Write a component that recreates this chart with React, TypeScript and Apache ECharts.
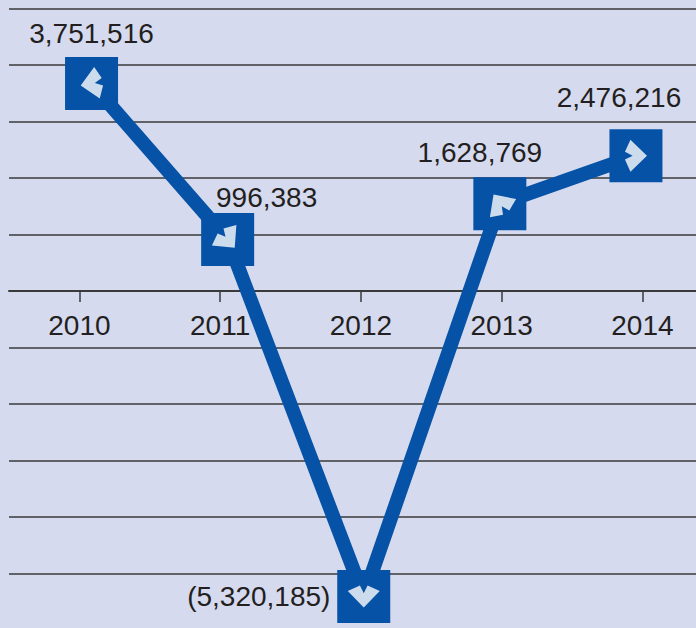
import React, { useEffect, useRef } from "react";
import * as echarts from "echarts";

const categories = ["2010", "2011", "2012", "2013", "2014"];
const values = [3751516, 996383, -5320185, 1628769, 2476216];
const yMin = -6000000;
const yMax = 5000000;
const yInterval = 1000000;

// label placement around each marker (px offsets from marker centre)
const labelOffsets: [number, number][] = [
  [0, -50],
  [39, -42],
  [-105, 0],
  [-20, -51],
  [-17, -58],
];
// direction of the white glyph inside each marker (degrees, CCW)
const glyphRotations = [-80, 40, 0, 215, 90];

const BLUE = "#0552a6";
const TEXT = "#231f20";
const FONT = "'Liberation Sans', Arial, Helvetica, sans-serif";

function fmt(v: number): string {
  const s = Math.abs(v).toLocaleString("en-US");
  return v < 0 ? `(${s})` : s;
}

const chevron = "path://M0,25 L38,0 L50,35 L62,0 L100,25 L50,100 Z";

export default function App() {
  const ref = useRef<HTMLDivElement>(null);
  useEffect(() => {
    document.body.style.margin = "0";
    if (!ref.current) return;
    const chart = echarts.init(ref.current, undefined, { renderer: "svg" });
    chart.setOption({
      animation: false,
      backgroundColor: "#d6daef",
      grid: [
        { left: 9, right: -16.75, top: 8.3, bottom: -1.8, outerBoundsMode: "none", containLabel: false },
        { left: 23.5, right: -8, top: 13, bottom: -7, outerBoundsMode: "none", containLabel: false },
      ],
      xAxis: [
        {
          type: "category",
          gridIndex: 0,
          data: categories,
          boundaryGap: true,
          position: "bottom",
          offset: -338.8,
          axisLine: { onZero: false, lineStyle: { color: "#3a3a3a", width: 2 } },
          axisTick: { show: true, alignWithLabel: true, length: 11, lineStyle: { color: "#3a3a3a", width: 1.5 } },
          axisLabel: { fontSize: 28, color: TEXT, fontFamily: FONT, margin: 20 },
          splitLine: { show: false },
        },
        {
          type: "category",
          gridIndex: 1,
          data: categories,
          boundaryGap: true,
          show: false,
        },
      ],
      yAxis: [
        {
          type: "value",
          gridIndex: 0,
          min: yMin,
          max: yMax,
          interval: yInterval,
          axisLine: { show: false },
          axisTick: { show: false },
          axisLabel: { show: false },
          splitLine: { show: true, lineStyle: { color: "#3a3a3a", width: 1.5 } },
        },
        {
          type: "value",
          gridIndex: 1,
          min: yMin,
          max: yMax,
          interval: yInterval,
          show: false,
          splitLine: { show: false },
        },
      ],
      series: [
        {
          type: "line",
          xAxisIndex: 1,
          yAxisIndex: 1,
          data: values.map((v, i) => ({
            value: v,
            label: { offset: labelOffsets[i] },
          })),
          lineStyle: { color: BLUE, width: 14 },
          itemStyle: { color: BLUE },
          symbol: "rect",
          symbolSize: 53,
          label: {
            show: true,
            position: "inside",
            align: "center",
            verticalAlign: "middle",
            fontSize: 28,
            color: TEXT,
            fontFamily: FONT,
            formatter: (p: any) => fmt(p.value),
          },
          z: 3,
        },
        {
          type: "scatter",
          xAxisIndex: 1,
          yAxisIndex: 1,
          data: values.map((v, i) => ({ value: v, symbolRotate: glyphRotations[i] })),
          symbol: chevron,
          symbolSize: [32, 22],
          itemStyle: { color: "#ffffff" },
          silent: true,
          z: 4,
        },
      ],
    });
    return () => chart.dispose();
  }, []);
  return <div ref={ref} style={{ width: 696, height: 628 }} />;
}
